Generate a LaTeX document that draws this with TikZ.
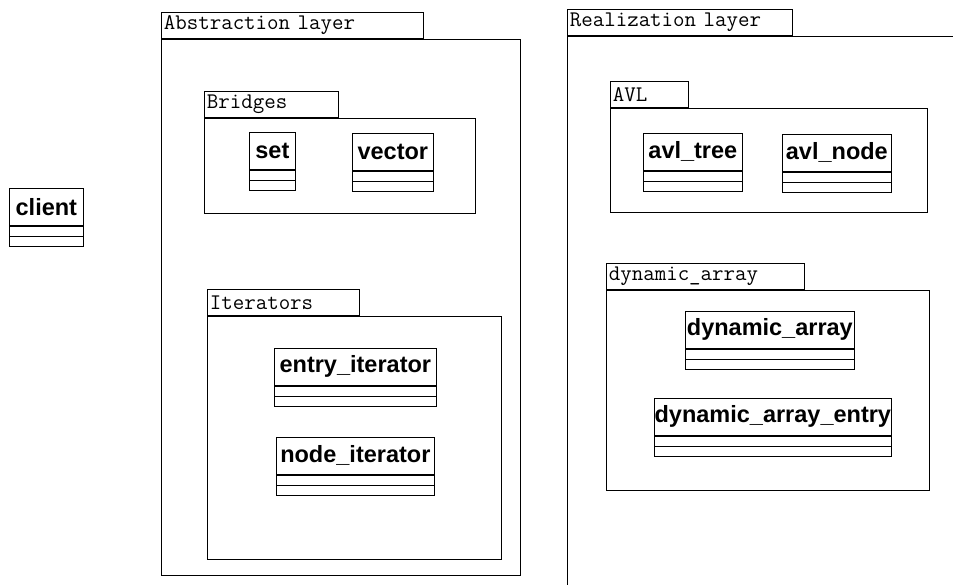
\documentclass[tikz,border=0pt]{standalone}
\usepackage{fontspec}
\setmainfont{Liberation Sans}

\begin{document}
\begin{tikzpicture}
[x=1pt, y=-1pt, line width=0.7pt,
  pkgTab/.style={draw, anchor=north west, inner xsep=2.5pt, inner ysep=0pt,
    align=left, minimum height=26pt, font=\ttfamily\fontsize{22.3}{23}\selectfont},
  pkgBody/.style={draw, anchor=north west, inner sep=0pt},
  className/.style={draw, anchor=north west, inner sep=0pt, minimum height=37pt,
    font=\bfseries\fontsize{23.5}{26}\selectfont},
  slot/.style={draw, anchor=north west, inner sep=0pt, minimum height=10pt}]
\useasboundingbox (0,0) rectangle (953,584);
%% packages (tab + body)
\foreach \pname/\ptext/\x/\y/\tw/\bw/\bh in {
  abs/Abstraction layer/161/12/262/359/536,
  real/Realization layer/567/9/225/420/620,
  bridges/Bridges/204/91/134/271/95,
  iter/Iterators/207/289/152/294/243,
  avl/AVL/610/81/78/317/104,
  dyn/dynamic\_array/606/263/198/323/200}
{
  \pgfmathsetmacro\tww{\tw-5}
  \node[pkgTab, text width=\tww pt] (\pname Tab) at (\x,\y) {\ptext};
  \node[pkgBody, minimum width=\bw pt, minimum height=\bh pt] (\pname) at (\pname Tab.south west) {};
}
%% classes (name + two empty slots)
\foreach \cname/\ctext/\x/\y/\w in {
  client/client/9/188/74,
  set/set/249/132/46,
  vector/vector/352/133/81,
  entryIter/entry\_iterator/274/348/162,
  nodeIter/node\_iterator/276/437/158,
  avlTree/avl\_tree/643/133/99,
  avlNode/avl\_node/782/134/109,
  dynArray/dynamic\_array/685/311/169,
  dynEntry/dynamic\_array\_entry/654/398/237}
{
  \node[className, minimum width=\w pt] (\cname) at (\x,\y) {\ctext};
  \node[slot, minimum width=\w pt] (\cname Attr) at (\cname.south west) {};
  \node[slot, minimum width=\w pt] (\cname Ops) at (\cname Attr.south west) {};
}
\end{tikzpicture}
\end{document}
